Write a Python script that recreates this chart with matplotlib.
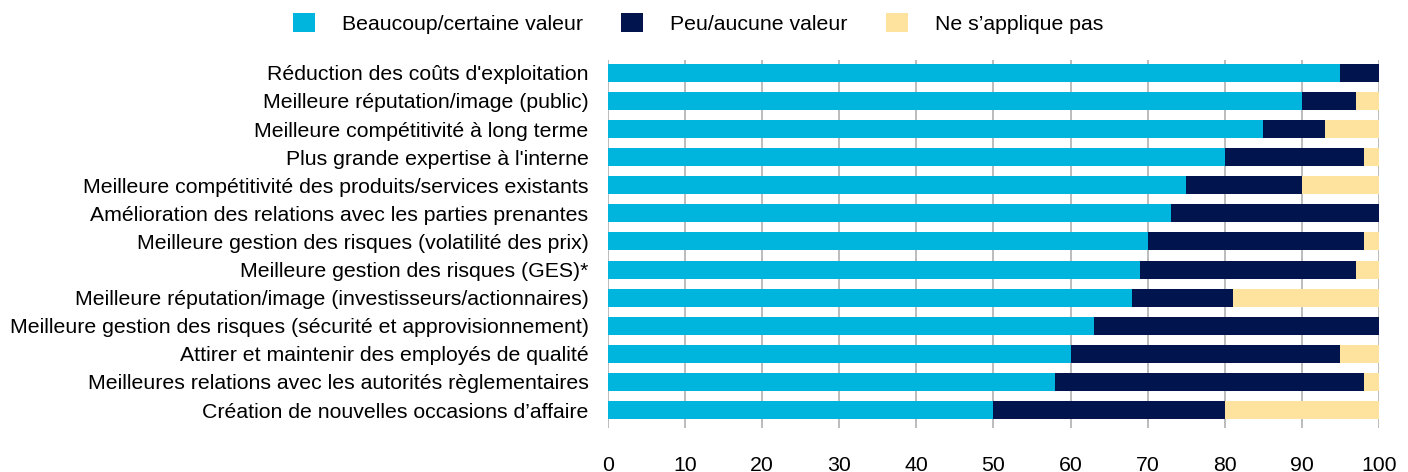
import matplotlib
matplotlib.use('Agg')
import matplotlib.pyplot as plt
import numpy as np

plt.rcParams['font.family'] = ['Liberation Sans', 'DejaVu Sans']

# Data (percent of respondents)
categories = [
    "Réduction des coûts d'exploitation",
    "Meilleure réputation/image (public)",
    "Meilleure compétitivité à long terme",
    "Plus grande expertise à l'interne",
    "Meilleure compétitivité des produits/services existants",
    "Amélioration des relations avec les parties prenantes",
    "Meilleure gestion des risques (volatilité des prix)",
    "Meilleure gestion des risques (GES)*",
    "Meilleure réputation/image (investisseurs/actionnaires)",
    "Meilleure gestion des risques (sécurité et approvisionnement)",
    "Attirer et maintenir des employés de qualité",
    "Meilleures relations avec les autorités règlementaires",
    "Création de nouvelles occasions d’affaire",
]
beaucoup = [95, 90, 85, 80, 75, 73, 70, 69, 68, 63, 60, 58, 50]
peu = [5, 7, 8, 18, 15, 27, 28, 28, 13, 37, 35, 40, 30]
ne_sapplique = [0, 3, 7, 2, 10, 0, 2, 3, 19, 0, 5, 2, 20]

series_names = ["Beaucoup/certaine valeur", "Peu/aucune valeur", "Ne s’applique pas"]
colors = ["#00B5DD", "#02144D", "#FDE39E"]
FS = 15.3

fig = plt.figure(figsize=(14.08, 4.72), dpi=100)
ax = fig.add_axes([0.4318, 0.0932, 0.5476, 0.7798])

y = np.arange(len(categories))
left = np.zeros(len(categories))
for vals, name, col in zip([beaucoup, peu, ne_sapplique], series_names, colors):
    ax.barh(y, vals, left=left, height=0.64, color=col, label=name, zorder=2)
    left += np.array(vals)

ax.set_xlim(0, 100)
ax.set_ylim(12.64, -0.46)
ax.set_xticks(range(0, 101, 10))
ax.set_yticks(y)
ax.set_yticklabels(categories, fontsize=FS)
ax.tick_params(axis='y', length=0, pad=14)
ax.tick_params(axis='x', length=0, labelsize=FS, pad=20)
ax.grid(axis='x', color='#b0b0b0', linewidth=1.2, zorder=0)
for s in ax.spines.values():
    s.set_visible(False)

fig.legend(loc='center', bbox_to_anchor=(0.4957, 0.951), ncol=3, frameon=False,
           fontsize=FS, handlelength=1.04, handleheight=1.04, columnspacing=1.8,
           handletextpad=1.27, borderpad=0)

fig.savefig('out.png', dpi=100)
